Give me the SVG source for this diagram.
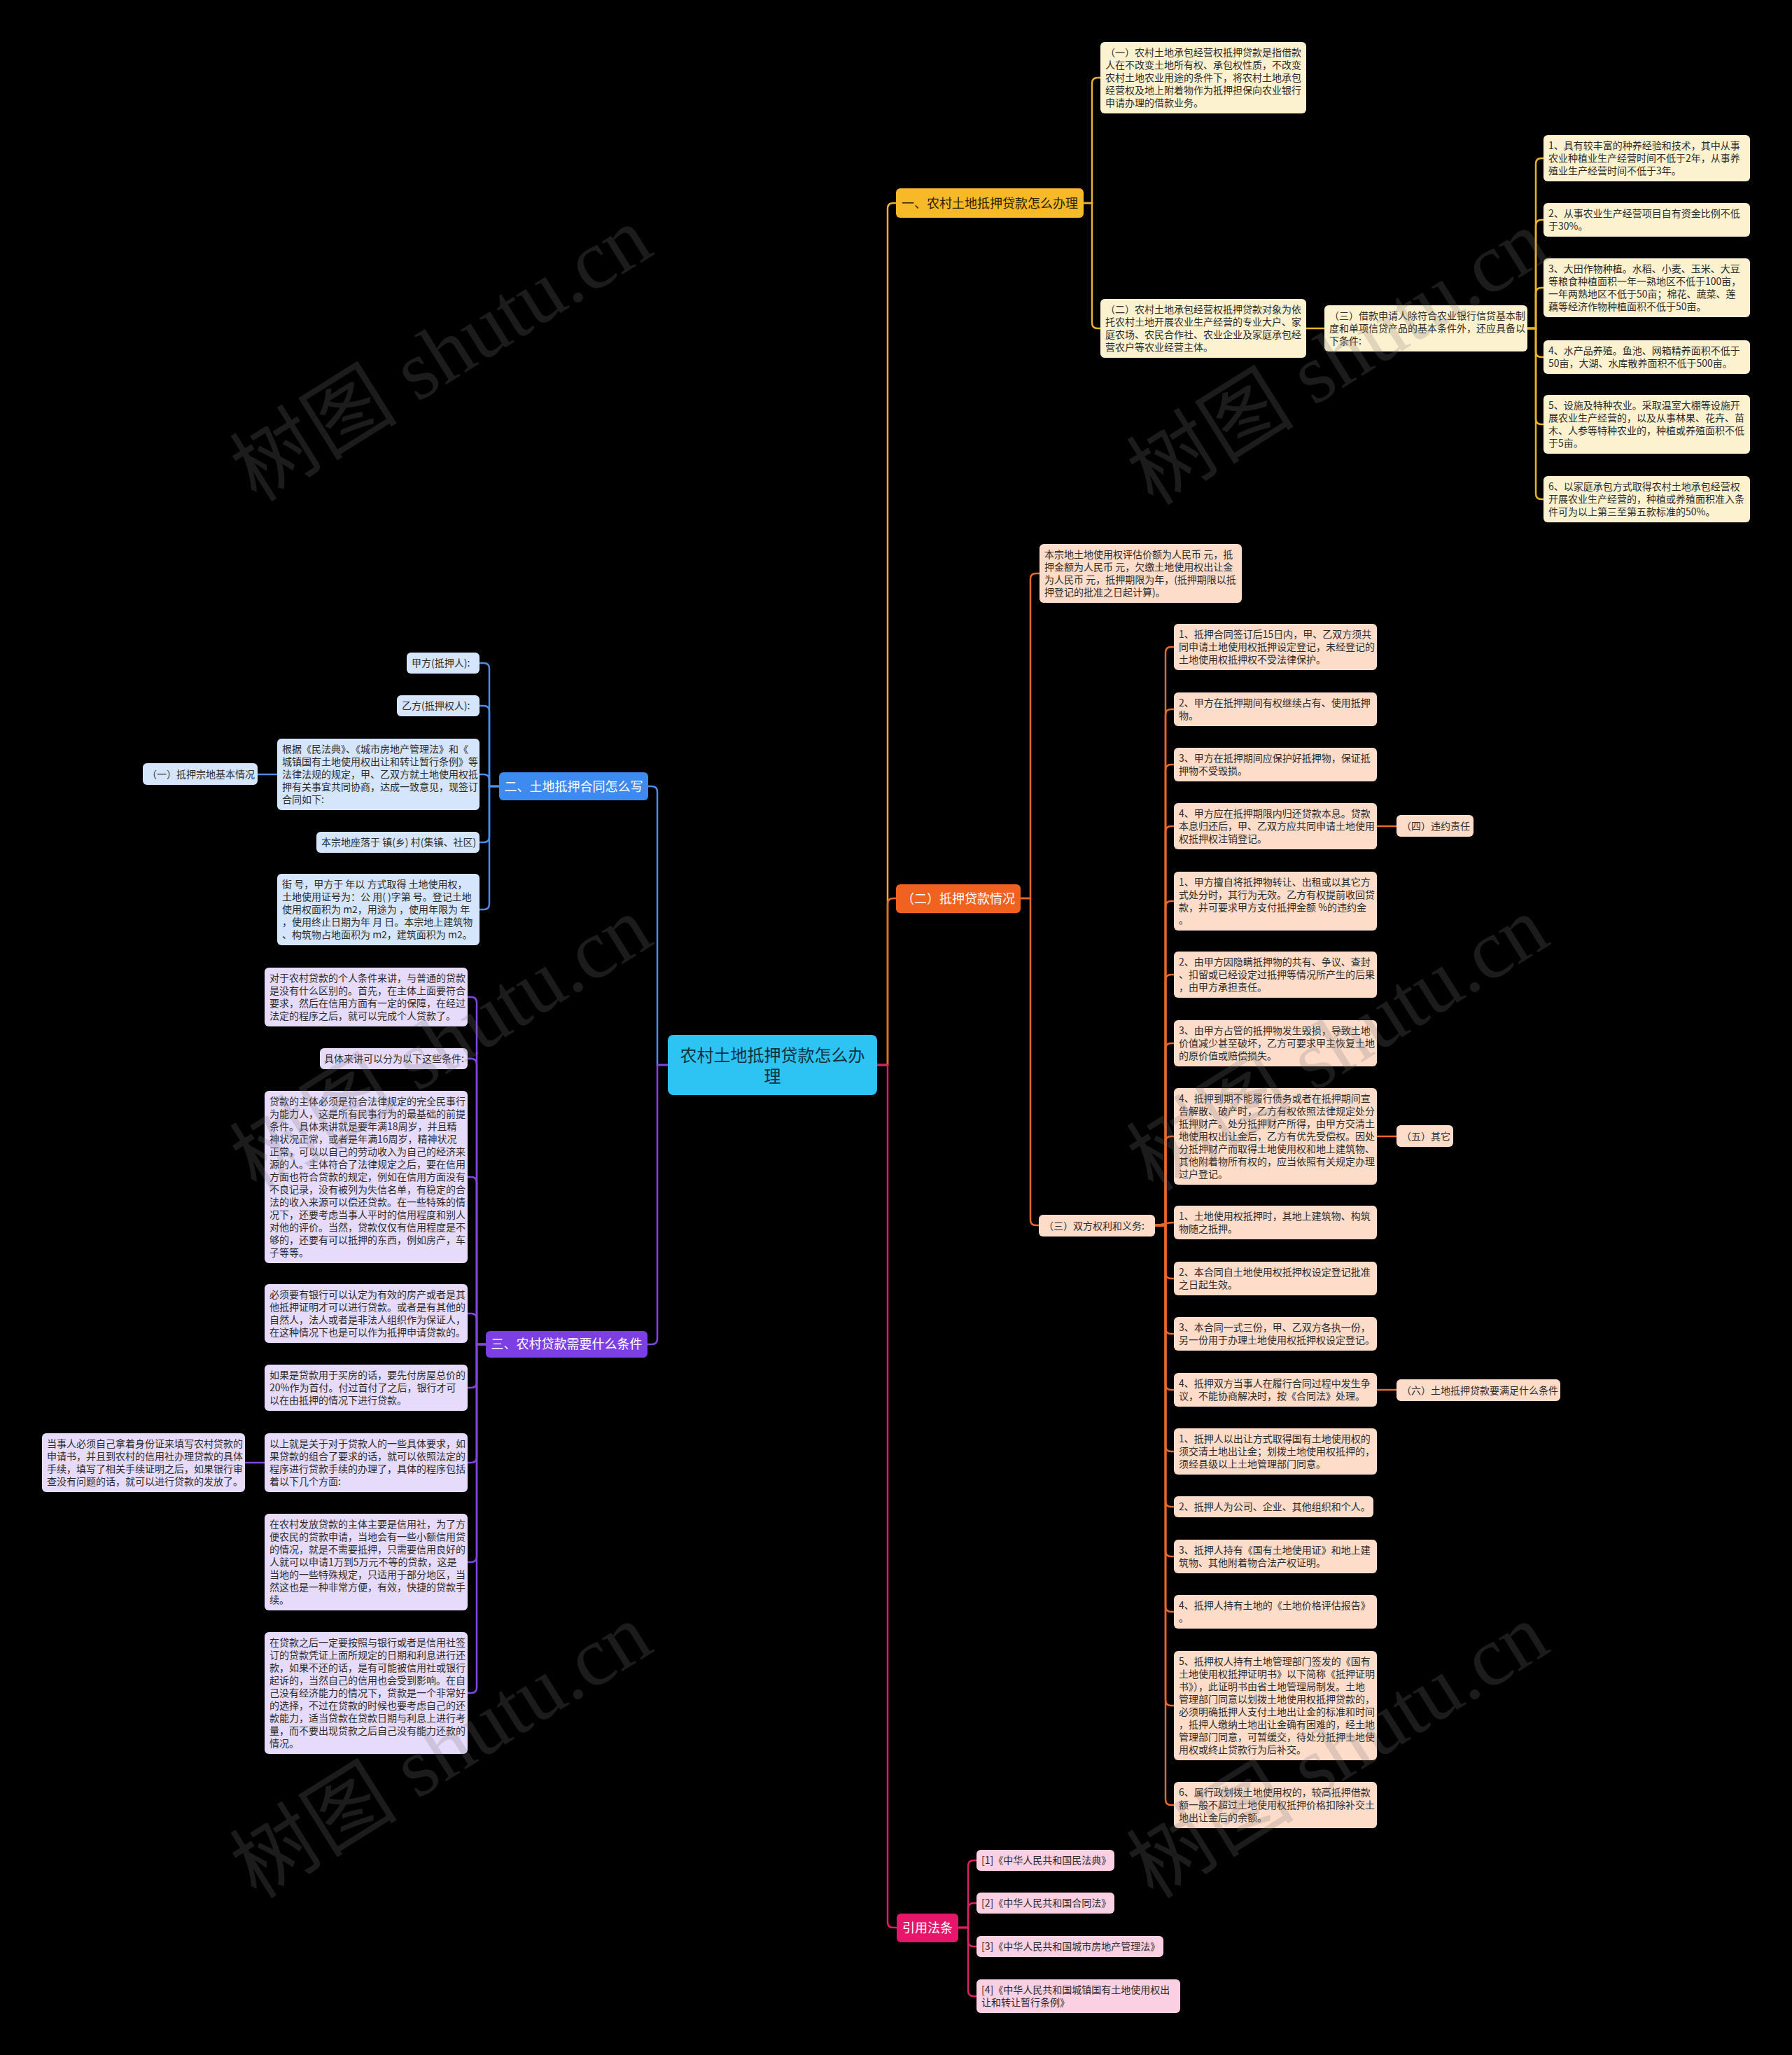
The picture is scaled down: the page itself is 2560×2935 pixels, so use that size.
<svg xmlns="http://www.w3.org/2000/svg" width="2560" height="2935" viewBox="0 0 2560 2935">
<style>
.t{font-family:"Noto Sans CJK SC","Noto Sans",sans-serif;font-size:14px;fill:#2b2b2b}
.bt{font-family:"Noto Sans CJK SC","Noto Sans",sans-serif;font-size:18px;text-anchor:middle}
.ct{font-family:"Noto Sans CJK SC","Noto Sans",sans-serif;font-size:24px;text-anchor:middle;fill:#10303f}
.wt{fill:#fff}
.cy{fill:#FDF2D0}.co{fill:#FDDCCA}.cm{fill:#FAD0E2}.cb{fill:#D5E6FC}.cp{fill:#E6DBFB}
.lk path{fill:none;stroke-width:2.5}
.ly path{stroke:#E8B22E}.lo path{stroke:#E8692C}.lm path{stroke:#DB1F66}.lb path{stroke:#4A8CE8}.lp path{stroke:#8047E0}
.wm{font-family:"Liberation Serif","Noto Sans CJK SC",serif;font-size:120px;fill:#7a7a7a;opacity:0.23;text-anchor:middle}
</style>
<rect x="0" y="0" width="2560" height="2935" fill="#000"/>

<g id="connectors" class="lk">
<g class="ly">
<path d="M1253,1521 H1268 V298 Q1268,290 1276,290 H1280" stroke-width="3"/>
<path d="M1548,290 H1560 V119 Q1560,111 1568,111 H1572"/>
<path d="M1548,290 H1560 V461 Q1560,469 1568,469 H1572"/>
<path d="M1866,469 H1892"/>
<path d="M2182,469 H2194 V234 Q2194,226 2202,226 H2205"/>
<path d="M2182,469 H2194 V322 Q2194,314 2202,314 H2205"/>
<path d="M2182,469 H2194 V419 Q2194,411 2202,411 H2205"/>
<path d="M2182,469 H2194 V502 Q2194,510 2202,510 H2205"/>
<path d="M2182,469 H2194 V598 Q2194,606 2202,606 H2205"/>
<path d="M2182,469 H2194 V705 Q2194,713 2202,713 H2205"/>
</g>
<g class="lo">
<path d="M1253,1521 H1268 V1291 Q1268,1283 1276,1283 H1280" stroke-width="3"/>
<path d="M1458,1283 H1472 V827 Q1472,819 1480,819 H1485"/>
<path d="M1458,1283 H1472 V1742 Q1472,1750 1480,1750 H1484"/>
<path d="M1650,1750 H1665 V932 Q1665,924 1673,924 H1677"/>
<path d="M1650,1750 H1665 V1021 Q1665,1013 1673,1013 H1677"/>
<path d="M1650,1750 H1665 V1100 Q1665,1092 1673,1092 H1677"/>
<path d="M1650,1750 H1665 V1188 Q1665,1180 1673,1180 H1677"/>
<path d="M1650,1750 H1665 V1295 Q1665,1287 1673,1287 H1677"/>
<path d="M1650,1750 H1665 V1400 Q1665,1392 1673,1392 H1677"/>
<path d="M1650,1750 H1665 V1498 Q1665,1490 1673,1490 H1677"/>
<path d="M1650,1750 H1665 V1631 Q1665,1623 1673,1623 H1677"/>
<path d="M1650,1750 C1662,1750 1664,1746 1677,1746"/>
<path d="M1650,1750 H1665 V1818 Q1665,1826 1673,1826 H1677"/>
<path d="M1650,1750 H1665 V1897 Q1665,1905 1673,1905 H1677"/>
<path d="M1650,1750 H1665 V1977 Q1665,1985 1673,1985 H1677"/>
<path d="M1650,1750 H1665 V2065 Q1665,2073 1673,2073 H1677"/>
<path d="M1650,1750 H1665 V2144 Q1665,2152 1673,2152 H1677"/>
<path d="M1650,1750 H1665 V2215 Q1665,2223 1673,2223 H1677"/>
<path d="M1650,1750 H1665 V2294 Q1665,2302 1673,2302 H1677"/>
<path d="M1650,1750 H1665 V2428 Q1665,2436 1673,2436 H1677"/>
<path d="M1650,1750 H1665 V2570 Q1665,2578 1673,2578 H1677"/>
<path d="M1967,1180 H1995"/>
<path d="M1967,1623 H1995"/>
<path d="M1967,1985 H1995"/>
</g>
<g class="lm">
<path d="M1253,1521 H1268 V2745 Q1268,2753 1276,2753 H1281" stroke-width="3"/>
<path d="M1369,2753 H1383 V2665 Q1383,2657 1391,2657 H1395"/>
<path d="M1369,2753 H1383 V2726 Q1383,2718 1391,2718 H1395"/>
<path d="M1369,2753 H1383 V2772 Q1383,2780 1391,2780 H1395"/>
<path d="M1369,2753 H1383 V2843 Q1383,2851 1391,2851 H1395"/>
</g>
<g class="lb">
<path d="M954,1521 H939 V1131 Q939,1123 931,1123 H926" stroke-width="3"/>
<path d="M713,1123 H699 V955 Q699,947 691,947 H685"/>
<path d="M713,1123 H699 V1016 Q699,1008 691,1008 H685"/>
<path d="M713,1123 H699 V1114 Q699,1106 691,1106 H685"/>
<path d="M713,1123 H699 V1195 Q699,1203 691,1203 H685"/>
<path d="M713,1123 H699 V1291 Q699,1299 691,1299 H685"/>
<path d="M396,1106 H368"/>
</g>
<g class="lp">
<path d="M954,1521 H939 V1912 Q939,1920 931,1920 H925" stroke-width="3"/>
<path d="M694,1920 H681 V1432 Q681,1424 673,1424 H668"/>
<path d="M694,1920 H681 V1520 Q681,1512 673,1512 H668"/>
<path d="M694,1920 H681 V1689 Q681,1681 673,1681 H668"/>
<path d="M694,1920 H681 V1884 Q681,1876 673,1876 H668"/>
<path d="M694,1920 H681 V1974 Q681,1982 673,1982 H668"/>
<path d="M694,1920 H681 V2081 Q681,2089 673,2089 H668"/>
<path d="M694,1920 H681 V2223 Q681,2231 673,2231 H668"/>
<path d="M694,1920 H681 V2410 Q681,2418 673,2418 H668"/>
<path d="M378,2089 H350"/>
</g>
</g>

<g id="n-center"><rect x="954" y="1478" width="299" height="86" rx="8" fill="#2DC3F3"/>
<text class="ct"><tspan x="1103.5" y="1516">农村土地抵押贷款怎么办</tspan><tspan x="1103.5" y="1546">理</tspan></text></g>

<!-- yellow branch -->
<g id="n-y0"><rect x="1280" y="269" width="268" height="42" rx="6" fill="#F7B928"/>
<text class="bt" x="1414" y="297" fill="#2a2100">一、农村土地抵押贷款怎么办理</text></g>
<g id="n-y1"><rect class="cy" x="1572" y="60" width="294" height="102" rx="6"/>
<text class="t"><tspan x="1579" y="80">（一）农村土地承包经营权抵押贷款是指借款</tspan><tspan x="1579" y="98">人在不改变土地所有权、承包权性质，不改变</tspan><tspan x="1579" y="116">农村土地农业用途的条件下，将农村土地承包</tspan><tspan x="1579" y="134">经营权及地上附着物作为抵押担保向农业银行</tspan><tspan x="1579" y="152">申请办理的借款业务。</tspan></text></g>
<g id="n-y2"><rect class="cy" x="1572" y="427" width="294" height="84" rx="6"/>
<text class="t"><tspan x="1579" y="447">（二）农村土地承包经营权抵押贷款对象为依</tspan><tspan x="1579" y="465">托农村土地开展农业生产经营的专业大户、家</tspan><tspan x="1579" y="483">庭农场、农民合作社、农业企业及家庭承包经</tspan><tspan x="1579" y="501">营农户等农业经营主体。</tspan></text></g>
<g id="n-y3"><rect class="cy" x="1892" y="436" width="290" height="66" rx="6"/>
<text class="t"><tspan x="1899" y="456">（三）借款申请人除符合农业银行信贷基本制</tspan><tspan x="1899" y="474">度和单项信贷产品的基本条件外，还应具备以</tspan><tspan x="1899" y="492">下条件:</tspan></text></g>
<g id="n-y4"><rect class="cy" x="2205" y="193" width="295" height="66" rx="6"/>
<text class="t"><tspan x="2212" y="213">1、具有较丰富的种养经验和技术，其中从事</tspan><tspan x="2212" y="231">农业种植业生产经营时间不低于2年，从事养</tspan><tspan x="2212" y="249">殖业生产经营时间不低于3年。</tspan></text></g>
<g id="n-y5"><rect class="cy" x="2205" y="290" width="295" height="48" rx="6"/>
<text class="t"><tspan x="2212" y="310">2、从事农业生产经营项目自有资金比例不低</tspan><tspan x="2212" y="328">于30%。</tspan></text></g>
<g id="n-y6"><rect class="cy" x="2205" y="369" width="295" height="84" rx="6"/>
<text class="t"><tspan x="2212" y="389">3、大田作物种植。水稻、小麦、玉米、大豆</tspan><tspan x="2212" y="407">等粮食种植面积一年一熟地区不低于100亩，</tspan><tspan x="2212" y="425">一年两熟地区不低于50亩；棉花、蔬菜、莲</tspan><tspan x="2212" y="443">藕等经济作物种植面积不低于50亩。</tspan></text></g>
<g id="n-y7"><rect class="cy" x="2205" y="486" width="295" height="48" rx="6"/>
<text class="t"><tspan x="2212" y="506">4、水产品养殖。鱼池、网箱精养面积不低于</tspan><tspan x="2212" y="524">50亩，大湖、水库散养面积不低于500亩。</tspan></text></g>
<g id="n-y8"><rect class="cy" x="2205" y="564" width="295" height="84" rx="6"/>
<text class="t"><tspan x="2212" y="584">5、设施及特种农业。采取温室大棚等设施开</tspan><tspan x="2212" y="602">展农业生产经营的，以及从事林果、花卉、苗</tspan><tspan x="2212" y="620">木、人参等特种农业的，种植或养殖面积不低</tspan><tspan x="2212" y="638">于5亩。</tspan></text></g>
<g id="n-y9"><rect class="cy" x="2205" y="680" width="295" height="66" rx="6"/>
<text class="t"><tspan x="2212" y="700">6、以家庭承包方式取得农村土地承包经营权</tspan><tspan x="2212" y="718">开展农业生产经营的，种植或养殖面积准入条</tspan><tspan x="2212" y="736">件可为以上第三至第五款标准的50%。</tspan></text></g>

<!-- orange branch -->
<g id="n-o0"><rect x="1280" y="1263" width="178" height="41" rx="6" fill="#F1611F"/>
<text class="bt wt" x="1369" y="1290">（二）抵押贷款情况</text></g>
<g id="n-o1"><rect class="co" x="1485" y="777" width="289" height="84" rx="6"/>
<text class="t"><tspan x="1492" y="797">本宗地土地使用权评估价额为人民币 元，抵</tspan><tspan x="1492" y="815">押金额为人民币 元，欠缴土地使用权出让金</tspan><tspan x="1492" y="833">为人民币 元，抵押期限为年，(抵押期限以抵</tspan><tspan x="1492" y="851">押登记的批准之日起计算)。</tspan></text></g>
<g id="n-o2"><rect class="co" x="1484" y="1735" width="166" height="31" rx="6"/>
<text class="t" x="1491" y="1756">（三）双方权利和义务:</text></g>
<g id="n-a1"><rect class="co" x="1677" y="891" width="290" height="66" rx="6"/>
<text class="t"><tspan x="1684" y="911">1、抵押合同签订后15日内，甲、乙双方须共</tspan><tspan x="1684" y="929">同申请土地使用权抵押设定登记，未经登记的</tspan><tspan x="1684" y="947">土地使用权抵押权不受法律保护。</tspan></text></g>
<g id="n-a2"><rect class="co" x="1677" y="989" width="290" height="48" rx="6"/>
<text class="t"><tspan x="1684" y="1009">2、甲方在抵押期间有权继续占有、使用抵押</tspan><tspan x="1684" y="1027">物。</tspan></text></g>
<g id="n-a3"><rect class="co" x="1677" y="1068" width="290" height="48" rx="6"/>
<text class="t"><tspan x="1684" y="1088">3、甲方在抵押期间应保护好抵押物，保证抵</tspan><tspan x="1684" y="1106">押物不受毁损。</tspan></text></g>
<g id="n-a4"><rect class="co" x="1677" y="1147" width="290" height="66" rx="6"/>
<text class="t"><tspan x="1684" y="1167">4、甲方应在抵押期限内归还贷款本息。贷款</tspan><tspan x="1684" y="1185">本息归还后，甲、乙双方应共同申请土地使用</tspan><tspan x="1684" y="1203">权抵押权注销登记。</tspan></text></g>
<g id="n-o4"><rect class="co" x="1995" y="1164" width="110" height="31" rx="6"/>
<text class="t" x="2002" y="1185">（四）违约责任</text></g>
<g id="n-b1"><rect class="co" x="1677" y="1245" width="290" height="84" rx="6"/>
<text class="t"><tspan x="1684" y="1265">1、甲方擅自将抵押物转让、出租或以其它方</tspan><tspan x="1684" y="1283">式处分时，其行为无效。乙方有权提前收回贷</tspan><tspan x="1684" y="1301">款，并可要求甲方支付抵押金额 %的违约金</tspan><tspan x="1684" y="1319">。</tspan></text></g>
<g id="n-b2"><rect class="co" x="1677" y="1359" width="290" height="66" rx="6"/>
<text class="t"><tspan x="1684" y="1379">2、由甲方因隐瞒抵押物的共有、争议、查封</tspan><tspan x="1684" y="1397">、扣留或已经设定过抵押等情况所产生的后果</tspan><tspan x="1684" y="1415">，由甲方承担责任。</tspan></text></g>
<g id="n-b3"><rect class="co" x="1677" y="1457" width="290" height="66" rx="6"/>
<text class="t"><tspan x="1684" y="1477">3、由甲方占管的抵押物发生毁损，导致土地</tspan><tspan x="1684" y="1495">价值减少甚至破坏，乙方可要求甲主恢复土地</tspan><tspan x="1684" y="1513">的原价值或赔偿损失。</tspan></text></g>
<g id="n-b4"><rect class="co" x="1677" y="1554" width="290" height="138" rx="6"/>
<text class="t"><tspan x="1684" y="1574">4、抵押到期不能履行债务或者在抵押期间宣</tspan><tspan x="1684" y="1592">告解散、破产时，乙方有权依照法律规定处分</tspan><tspan x="1684" y="1610">抵押财产。处分抵押财产所得，由甲方交清土</tspan><tspan x="1684" y="1628">地使用权出让金后，乙方有优先受偿权。因处</tspan><tspan x="1684" y="1646">分抵押财产而取得土地使用权和地上建筑物、</tspan><tspan x="1684" y="1664">其他附着物所有权的，应当依照有关规定办理</tspan><tspan x="1684" y="1682">过户登记。</tspan></text></g>
<g id="n-o5"><rect class="co" x="1995" y="1607" width="81" height="31" rx="6"/>
<text class="t" x="2002" y="1628">（五）其它</text></g>
<g id="n-c1"><rect class="co" x="1677" y="1722" width="290" height="48" rx="6"/>
<text class="t"><tspan x="1684" y="1742">1、土地使用权抵押时，其地上建筑物、构筑</tspan><tspan x="1684" y="1760">物随之抵押。</tspan></text></g>
<g id="n-c2"><rect class="co" x="1677" y="1802" width="290" height="48" rx="6"/>
<text class="t"><tspan x="1684" y="1822">2、本合同自土地使用权抵押权设定登记批准</tspan><tspan x="1684" y="1840">之日起生效。</tspan></text></g>
<g id="n-c3"><rect class="co" x="1677" y="1881" width="290" height="48" rx="6"/>
<text class="t"><tspan x="1684" y="1901">3、本合同一式三份，甲、乙双方各执一份，</tspan><tspan x="1684" y="1919">另一份用于办理土地使用权抵押权设定登记。</tspan></text></g>
<g id="n-c4"><rect class="co" x="1677" y="1961" width="290" height="48" rx="6"/>
<text class="t"><tspan x="1684" y="1981">4、抵押双方当事人在履行合同过程中发生争</tspan><tspan x="1684" y="1999">议，不能协商解决时，按《合同法》处理。</tspan></text></g>
<g id="n-o6"><rect class="co" x="1995" y="1970" width="234" height="31" rx="6"/>
<text class="t" x="2002" y="1991">（六）土地抵押贷款要满足什么条件</text></g>
<g id="n-d1"><rect class="co" x="1677" y="2040" width="290" height="66" rx="6"/>
<text class="t"><tspan x="1684" y="2060">1、抵押人以出让方式取得国有土地使用权的</tspan><tspan x="1684" y="2078">须交清土地出让金；划拨土地使用权抵押的，</tspan><tspan x="1684" y="2096">须经县级以上土地管理部门同意。</tspan></text></g>
<g id="n-d2"><rect class="co" x="1677" y="2137" width="285" height="30" rx="6"/>
<text class="t" x="1684" y="2157">2、抵押人为公司、企业、其他组织和个人。</text></g>
<g id="n-d3"><rect class="co" x="1677" y="2199" width="290" height="48" rx="6"/>
<text class="t"><tspan x="1684" y="2219">3、抵押人持有《国有土地使用证》和地上建</tspan><tspan x="1684" y="2237">筑物、其他附着物合法产权证明。</tspan></text></g>
<g id="n-d4"><rect class="co" x="1677" y="2278" width="290" height="48" rx="6"/>
<text class="t"><tspan x="1684" y="2298">4、抵押人持有土地的《土地价格评估报告》</tspan><tspan x="1684" y="2316">。</tspan></text></g>
<g id="n-d5"><rect class="co" x="1677" y="2358" width="290" height="156" rx="6"/>
<text class="t"><tspan x="1684" y="2378">5、抵押权人持有土地管理部门签发的《国有</tspan><tspan x="1684" y="2396">土地使用权抵押证明书》以下简称《抵押证明</tspan><tspan x="1684" y="2414">书》），此证明书由省土地管理局制发。土地</tspan><tspan x="1684" y="2432">管理部门同意以划拨土地使用权抵押贷款的，</tspan><tspan x="1684" y="2450">必须明确抵押人支付土地出让金的标准和时间</tspan><tspan x="1684" y="2468">，抵押人缴纳土地出让金确有困难的，经土地</tspan><tspan x="1684" y="2486">管理部门同意，可暂缓交，待处分抵押土地使</tspan><tspan x="1684" y="2504">用权或终止贷款行为后补交。</tspan></text></g>
<g id="n-d6"><rect class="co" x="1677" y="2545" width="290" height="66" rx="6"/>
<text class="t"><tspan x="1684" y="2565">6、属行政划拨土地使用权的，较高抵押借款</tspan><tspan x="1684" y="2583">额一般不超过土地使用权抵押价格扣除补交土</tspan><tspan x="1684" y="2601">地出让金后的余额。</tspan></text></g>

<!-- magenta branch -->
<g id="n-m0"><rect x="1281" y="2733" width="88" height="41" rx="6" fill="#E6176B"/>
<text class="bt wt" x="1325" y="2760">引用法条</text></g>
<g id="n-m1"><rect class="cm" x="1395" y="2642" width="197" height="30" rx="6"/>
<text class="t" x="1402" y="2662">[1]《中华人民共和国民法典》</text></g>
<g id="n-m2"><rect class="cm" x="1395" y="2703" width="197" height="30" rx="6"/>
<text class="t" x="1402" y="2723">[2]《中华人民共和国合同法》</text></g>
<g id="n-m3"><rect class="cm" x="1395" y="2765" width="267" height="30" rx="6"/>
<text class="t" x="1402" y="2785">[3]《中华人民共和国城市房地产管理法》</text></g>
<g id="n-m4"><rect class="cm" x="1395" y="2827" width="291" height="48" rx="6"/>
<text class="t"><tspan x="1402" y="2847">[4]《中华人民共和国城镇国有土地使用权出</tspan><tspan x="1402" y="2865">让和转让暂行条例》</tspan></text></g>

<!-- blue branch -->
<g id="n-b0"><rect x="713" y="1103" width="213" height="40" rx="6" fill="#3D8AF0"/>
<text class="bt wt" x="819.5" y="1130">二、土地抵押合同怎么写</text></g>
<g id="n-bl1"><rect class="cb" x="581" y="932" width="104" height="30" rx="6"/>
<text class="t" x="588" y="952">甲方(抵押人):</text></g>
<g id="n-bl2"><rect class="cb" x="567" y="993" width="118" height="30" rx="6"/>
<text class="t" x="574" y="1013">乙方(抵押权人):</text></g>
<g id="n-bl3"><rect class="cb" x="396" y="1055" width="289" height="102" rx="6"/>
<text class="t"><tspan x="403" y="1075">根据《民法典》、《城市房地产管理法》和《</tspan><tspan x="403" y="1093">城镇国有土地使用权出让和转让暂行条例》等</tspan><tspan x="403" y="1111">法律法规的规定，甲、乙双方就土地使用权抵</tspan><tspan x="403" y="1129">押有关事宜共同协商，达成一致意见，现签订</tspan><tspan x="403" y="1147">合同如下:</tspan></text></g>
<g id="n-bl4"><rect class="cb" x="204" y="1090" width="164" height="31" rx="6"/>
<text class="t" x="210" y="1111">（一）抵押宗地基本情况</text></g>
<g id="n-bl5"><rect class="cb" x="452" y="1188" width="233" height="30" rx="6"/>
<text class="t" x="459" y="1208">本宗地座落于 镇(乡) 村(集镇、社区)</text></g>
<g id="n-bl6"><rect class="cb" x="396" y="1248" width="289" height="102" rx="6"/>
<text class="t"><tspan x="403" y="1268">街 号，甲方于 年以 方式取得 土地使用权，</tspan><tspan x="403" y="1286">土地使用证号为：公 用( )字第 号。登记土地</tspan><tspan x="403" y="1304">使用权面积为 m2，用途为 ，使用年限为 年</tspan><tspan x="403" y="1322">，使用终止日期为年 月 日。本宗地上建筑物</tspan><tspan x="403" y="1340">、构筑物占地面积为 m2，建筑面积为 m2。</tspan></text></g>

<!-- purple branch -->
<g id="n-p0"><rect x="694" y="1901" width="231" height="38" rx="6" fill="#7B3FE3"/>
<text class="bt wt" x="809.5" y="1926">三、农村贷款需要什么条件</text></g>
<g id="n-p1"><rect class="cp" x="378" y="1382" width="290" height="84" rx="6"/>
<text class="t"><tspan x="385" y="1402">对于农村贷款的个人条件来讲，与普通的贷款</tspan><tspan x="385" y="1420">是没有什么区别的。首先，在主体上面要符合</tspan><tspan x="385" y="1438">要求，然后在信用方面有一定的保障，在经过</tspan><tspan x="385" y="1456">法定的程序之后，就可以完成个人贷款了。</tspan></text></g>
<g id="n-p2"><rect class="cp" x="457" y="1497" width="211" height="30" rx="6"/>
<text class="t" x="463" y="1517">具体来讲可以分为以下这些条件:</text></g>
<g id="n-p3"><rect class="cp" x="378" y="1558" width="290" height="246" rx="6"/>
<text class="t"><tspan x="385" y="1578">贷款的主体必须是符合法律规定的完全民事行</tspan><tspan x="385" y="1596">为能力人，这是所有民事行为的最基础的前提</tspan><tspan x="385" y="1614">条件。具体来讲就是要年满18周岁，并且精</tspan><tspan x="385" y="1632">神状况正常，或者是年满16周岁，精神状况</tspan><tspan x="385" y="1650">正常，可以以自己的劳动收入为自己的经济来</tspan><tspan x="385" y="1668">源的人。主体符合了法律规定之后，要在信用</tspan><tspan x="385" y="1686">方面也符合贷款的规定，例如在信用方面没有</tspan><tspan x="385" y="1704">不良记录，没有被列为失信名单，有稳定的合</tspan><tspan x="385" y="1722">法的收入来源可以偿还贷款。在一些特殊的情</tspan><tspan x="385" y="1740">况下，还要考虑当事人平时的信用程度和别人</tspan><tspan x="385" y="1758">对他的评价。当然，贷款仅仅有信用程度是不</tspan><tspan x="385" y="1776">够的，还要有可以抵押的东西，例如房产，车</tspan><tspan x="385" y="1794">子等等。</tspan></text></g>
<g id="n-p4"><rect class="cp" x="378" y="1834" width="290" height="84" rx="6"/>
<text class="t"><tspan x="385" y="1854">必须要有银行可以认定为有效的房产或者是其</tspan><tspan x="385" y="1872">他抵押证明才可以进行贷款。或者是有其他的</tspan><tspan x="385" y="1890">自然人，法人或者是非法人组织作为保证人，</tspan><tspan x="385" y="1908">在这种情况下也是可以作为抵押申请贷款的。</tspan></text></g>
<g id="n-p5"><rect class="cp" x="378" y="1949" width="290" height="66" rx="6"/>
<text class="t"><tspan x="385" y="1969">如果是贷款用于买房的话，要先付房屋总价的</tspan><tspan x="385" y="1987">20%作为首付。付过首付了之后，银行才可</tspan><tspan x="385" y="2005">以在由抵押的情况下进行贷款。</tspan></text></g>
<g id="n-p6"><rect class="cp" x="378" y="2047" width="290" height="84" rx="6"/>
<text class="t"><tspan x="385" y="2067">以上就是关于对于贷款人的一些具体要求，如</tspan><tspan x="385" y="2085">果贷款的组合了要求的话，就可以依照法定的</tspan><tspan x="385" y="2103">程序进行贷款手续的办理了，具体的程序包括</tspan><tspan x="385" y="2121">着以下几个方面:</tspan></text></g>
<g id="n-p6c"><rect class="cp" x="60" y="2047" width="290" height="84" rx="6"/>
<text class="t"><tspan x="67" y="2067">当事人必须自己拿着身份证来填写农村贷款的</tspan><tspan x="67" y="2085">申请书，并且到农村的信用社办理贷款的具体</tspan><tspan x="67" y="2103">手续，填写了相关手续证明之后，如果银行审</tspan><tspan x="67" y="2121">查没有问题的话，就可以进行贷款的发放了。</tspan></text></g>
<g id="n-p7"><rect class="cp" x="378" y="2162" width="290" height="138" rx="6"/>
<text class="t"><tspan x="385" y="2182">在农村发放贷款的主体主要是信用社，为了方</tspan><tspan x="385" y="2200">便农民的贷款申请，当地会有一些小额信用贷</tspan><tspan x="385" y="2218">的情况，就是不需要抵押，只需要信用良好的</tspan><tspan x="385" y="2236">人就可以申请1万到5万元不等的贷款，这是</tspan><tspan x="385" y="2254">当地的一些特殊规定，只适用于部分地区，当</tspan><tspan x="385" y="2272">然这也是一种非常方便，有效，快捷的贷款手</tspan><tspan x="385" y="2290">续。</tspan></text></g>
<g id="n-p8"><rect class="cp" x="378" y="2331" width="290" height="174" rx="6"/>
<text class="t"><tspan x="385" y="2351">在贷款之后一定要按照与银行或者是信用社签</tspan><tspan x="385" y="2369">订的贷款凭证上面所规定的日期和利息进行还</tspan><tspan x="385" y="2387">款，如果不还的话，是有可能被信用社或银行</tspan><tspan x="385" y="2405">起诉的，当然自己的信用也会受到影响。在自</tspan><tspan x="385" y="2423">己没有经济能力的情况下，贷款是一个非常好</tspan><tspan x="385" y="2441">的选择，不过在贷款的时候也要考虑自己的还</tspan><tspan x="385" y="2459">款能力，适当贷款在贷款日期与利息上进行考</tspan><tspan x="385" y="2477">量，而不要出现贷款之后自己没有能力还款的</tspan><tspan x="385" y="2495">情况。</tspan></text></g>

<g id="watermarks">
<text class="wm" transform="translate(652,540) rotate(-32)">树图 shutu.cn</text>
<text class="wm" transform="translate(1933,545) rotate(-32)">树图 shutu.cn</text>
<text class="wm" transform="translate(652,1525) rotate(-32)">树图 shutu.cn</text>
<text class="wm" transform="translate(1933,1525) rotate(-32)">树图 shutu.cn</text>
<text class="wm" transform="translate(652,2535) rotate(-32)">树图 shutu.cn</text>
<text class="wm" transform="translate(1933,2535) rotate(-32)">树图 shutu.cn</text>
</g>
</svg>
